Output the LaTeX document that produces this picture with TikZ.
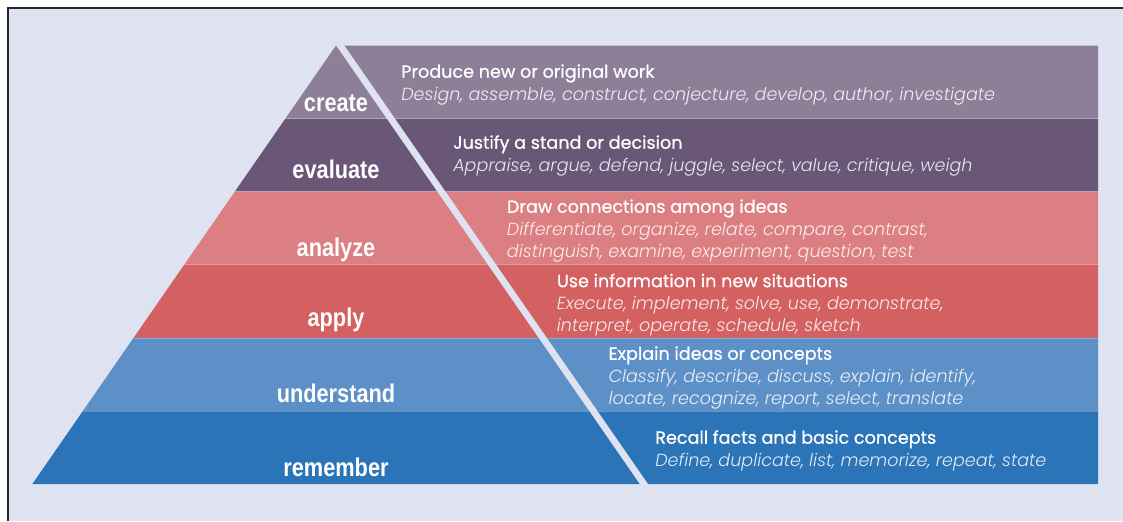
\documentclass[tikz,border=0pt]{standalone}
\usepackage{fontspec}
\setmainfont{Poppins}
\newfontfamily\hdfont[FakeBold=0.7]{Poppins}
\newfontfamily\dsfont{Poppins Light Italic}
\newfontfamily\labfont[FakeStretch=0.85]{Liberation Sans}
\definecolor{bgc}{HTML}{DFE2F0}
\definecolor{cCreate}{HTML}{8E7F98}
\definecolor{cEvaluate}{HTML}{6A5677}
\definecolor{cAnalyze}{HTML}{DB7F82}
\definecolor{cApply}{HTML}{D46162}
\definecolor{cUnderstand}{HTML}{5E90C8}
\definecolor{cRemember}{HTML}{2C74B8}
\newcommand\hd{\hdfont\fontsize{13.2}{16.7}\selectfont}
\newcommand\ds[1]{\dsfont\fontsize{13.15}{16.7}\selectfont\color{white!85!#1}}
\begin{document}
\begin{tikzpicture}[x=0.75pt,y=-0.75pt,
    lab/.style={text=white,font=\labfont\bfseries\fontsize{19.2}{20}\selectfont,anchor=base},
    info/.style={text=white,anchor=base west,align=left,inner sep=0pt,font=\fontsize{13}{16.7}\selectfont},
    seam/.style={white,opacity=0.25,line width=0.5pt},
    frame/.style={line width=1.5pt,gray!30!black}]
    \useasboundingbox (0,0) rectangle (1123,521);
    \fill[white] (0,0) rectangle (1123,521);
    \fill[bgc] (8,8) rectangle (1123,521);
    \draw[frame] (1123,7.5) -- (7.5,7.5) -- (7.5,521);
    % pyramid on the left, bands on the right
    \foreach \i/\col in {0/cCreate,1/cEvaluate,2/cAnalyze,3/cApply,4/cUnderstand,5/cRemember}{
        \pgfmathsetmacro\ya{45.5+73.1*\i}
        \pgfmathsetmacro\yb{\ya+73.1}
        \fill[\col] ({336-0.6925*(\ya-45.5)},\ya) -- ({336+0.6925*(\ya-45.5)},\ya)
            -- ({336+0.6925*(\yb-45.5)},\yb) -- ({336-0.6925*(\yb-45.5)},\yb) -- cycle;
        \fill[\col] ({344.5+0.6925*(\ya-45.5)},\ya) -- (1098,\ya) -- (1098,\yb)
            -- ({344.5+0.6925*(\yb-45.5)},\yb) -- cycle;
    }
    \foreach \i in {1,...,5}{
        \pgfmathsetmacro\ya{45.5+73.1*\i}
        \draw[seam] ({336-0.6925*(\ya-45.5)},\ya) -- ({336+0.6925*(\ya-45.5)},\ya);
        \draw[seam] ({344.5+0.6925*(\ya-45.5)},\ya) -- (1098,\ya);
    }
    \foreach \name/\y in {create/111,evaluate/178.5,analyze/256.7,apply/326.7,understand/402.7,remember/476.7}
        \node[lab] (\name) at (336,\y) {\name};
    \node[info] (createTxt) at (401,100) {\hd Produce new or original work\\
        \ds{cCreate}Design, assemble, construct, conjecture, develop, author, investigate};
    \node[info] (evaluateTxt) at (453,171) {\hd Justify a stand or decision\\
        \ds{cEvaluate}Appraise, argue, defend, juggle, select, value, critique, weigh};
    \node[info] (analyzeTxt) at (506.7,257.3) {\hd Draw connections among ideas\\
        \ds{cAnalyze}Differentiate, organize, relate, compare, contrast,\\
        \ds{cAnalyze}distinguish, examine, experiment, question, test};
    \node[info] (applyTxt) at (556.7,331.7) {\hd Use information in new situations\\
        \ds{cApply}Execute, implement, solve, use, demonstrate,\\
        \ds{cApply}interpret, operate, schedule, sketch};
    \node[info] (understandTxt) at (608.3,404.3) {\hd Explain ideas or concepts\\
        \ds{cUnderstand}Classify, describe, discuss, explain, identify,\\
        \ds{cUnderstand}locate, recognize, report, select, translate};
    \node[info] (rememberTxt) at (655,466) {\hd Recall facts and basic concepts\\
        \ds{cRemember}Define, duplicate, list, memorize, repeat, state};
\end{tikzpicture}
\end{document}
